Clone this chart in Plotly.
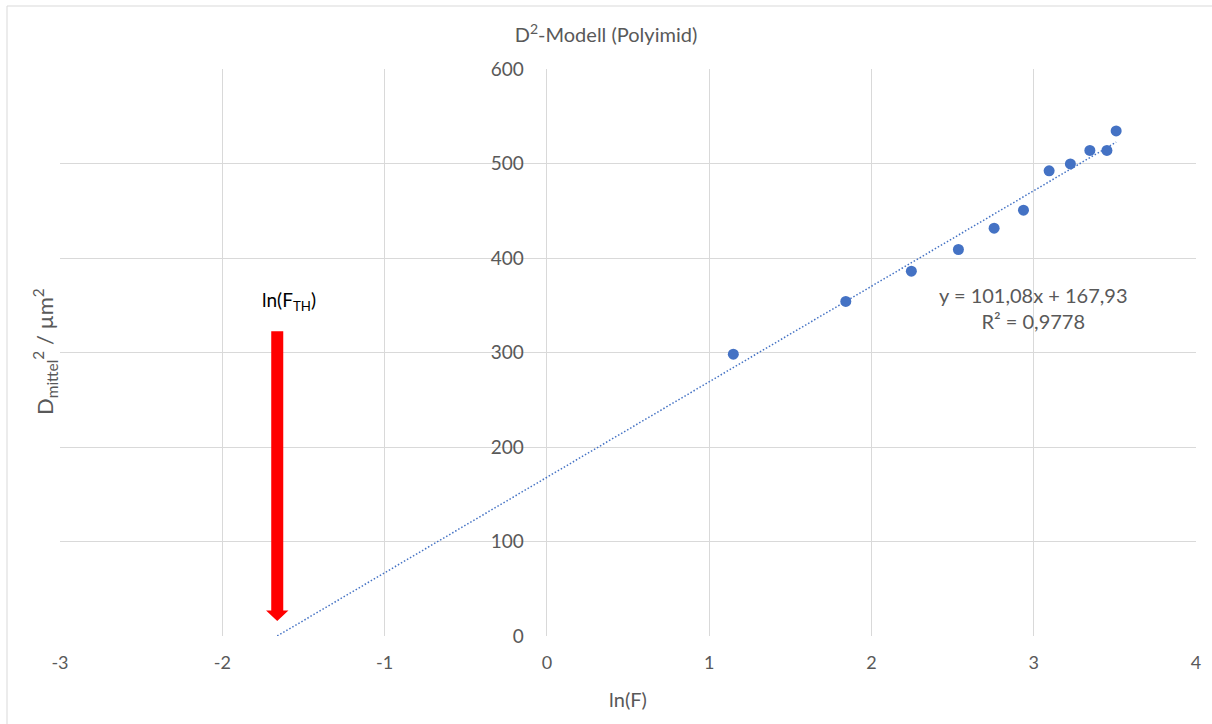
import plotly.graph_objects as go

# Measured points: ln(F) vs. squared mean crater diameter
ln_f = [1.149, 1.842, 2.246, 2.536, 2.756, 2.937, 3.095, 3.226, 3.346, 3.451, 3.508]
d_sq = [298.2, 354.0, 386.0, 409.0, 431.5, 450.6, 492.2, 499.6, 513.8, 513.8, 534.5]

# Linear trend (as stated in the equation label)
slope = 101.08
intercept = 167.93
r_squared = 0.9778

x_ticks = [-3, -2, -1, 0, 1, 2, 3, 4]
y_ticks = [0, 100, 200, 300, 400, 500, 600]

BLUE = "#4472C4"
GREY_TEXT = "#595959"
GRID = "#d9d9d9"
FONT = "Lato"

# threshold: trend line crosses D^2 = 0
ln_f_th = -intercept / slope
trend_x = [ln_f_th, max(ln_f)]
trend_y = [slope * x + intercept for x in trend_x]

fig = go.Figure()

fig.add_trace(go.Scatter(
    x=trend_x, y=trend_y, mode="lines",
    line=dict(color=BLUE, width=1.5, dash="1.5px,2px"),
    hoverinfo="skip", showlegend=False,
))
fig.add_trace(go.Scatter(
    x=ln_f, y=d_sq, mode="markers",
    marker=dict(color=BLUE, size=11),
    showlegend=False,
))

W, H = 1212, 724
ML, MR, MT, MB = 60, 16, 69, 88
pw = W - ML - MR
ph = H - MT - MB

def px_x(p):
    return (p - ML) / pw

def px_y(p):
    return (H - MB - p) / ph

x_min, x_max = -3, 4
y_axis_pos = (0 - x_min) / (x_max - x_min)

# red arrow pointing at ln(F_TH)
arrow_top = 322.5
arrow_head_base = 27.0
arrow_tip = 16.0
shaft_half = 0.037
head_half = 0.069
xa = ln_f_th
arrow_path = (
    f"M {xa - shaft_half},{arrow_top} L {xa + shaft_half},{arrow_top} "
    f"L {xa + shaft_half},{arrow_head_base} L {xa + head_half},{arrow_head_base} "
    f"L {xa},{arrow_tip} L {xa - head_half},{arrow_head_base} "
    f"L {xa - shaft_half},{arrow_head_base} Z"
)

eq_text = (f"y = {slope:.2f}x + {intercept:.2f}".replace(".", ",")
           + "<br>" + f"R² = {r_squared:.4f}".replace(".", ","))

fig.update_layout(
    width=W, height=H,
    margin=dict(l=ML, r=MR, t=MT, b=MB),
    paper_bgcolor="white", plot_bgcolor="white",
    font=dict(family=FONT, color=GREY_TEXT, size=18),
    title=dict(
        text="D<sup>2</sup>-Modell (Polyimid)",
        x=0.5, xanchor="center", y=1 - 35 / H, yanchor="middle",
        font=dict(size=20, color=GREY_TEXT, family=FONT),
    ),
    xaxis=dict(
        range=[x_min, x_max], tickvals=x_ticks, ticktext=[str(v) for v in x_ticks],
        showgrid=True, gridcolor=GRID, gridwidth=1,
        zeroline=False, showline=False, ticks="",
        ticklabelstandoff=14,
        tickfont=dict(size=18, color=GREY_TEXT),
        title=dict(text="ln(F)", font=dict(size=20, color=GREY_TEXT), standoff=20),
    ),
    yaxis=dict(
        range=[0, 600], tickvals=y_ticks, ticktext=[str(v) for v in y_ticks],
        showgrid=True, gridcolor=GRID, gridwidth=1,
        zeroline=False, showline=False, ticks="",
        anchor="free", position=y_axis_pos,
        ticklabelstandoff=23,
        tickfont=dict(size=19, color=GREY_TEXT),
    ),
    shapes=[
        dict(type="path", xref="x", yref="y", path=arrow_path,
             fillcolor="#FF0000", line=dict(width=0)),
        dict(type="rect", xref="paper", yref="paper",
             x0=px_x(7), x1=px_x(1230), y0=px_y(740), y1=px_y(6),
             line=dict(color="#d9d9d9", width=1), fillcolor="rgba(0,0,0,0)",
             layer="below"),
    ],
    annotations=[
        dict(text="D<sub>mittel</sub><sup>2</sup> / µm<sup>2</sup>",
             xref="paper", yref="paper", x=px_x(45), y=px_y(352),
             xanchor="center", yanchor="middle",
             textangle=-90, showarrow=False,
             font=dict(size=22, color=GREY_TEXT, family=FONT)),
        dict(text="ln(F<sub>TH</sub>)", xref="x", yref="paper",
             x=ln_f_th + 0.07, y=px_y(301), xanchor="center", yanchor="middle",
             showarrow=False,
             font=dict(size=19, color="#000000", family=FONT)),
        dict(text=eq_text,
             xref="paper", yref="paper", x=px_x(1033), y=px_y(308),
             xanchor="center", yanchor="middle",
             showarrow=False, align="center",
             font=dict(size=20, color=GREY_TEXT, family=FONT)),
    ],
)

fig.write_html("out.html")
